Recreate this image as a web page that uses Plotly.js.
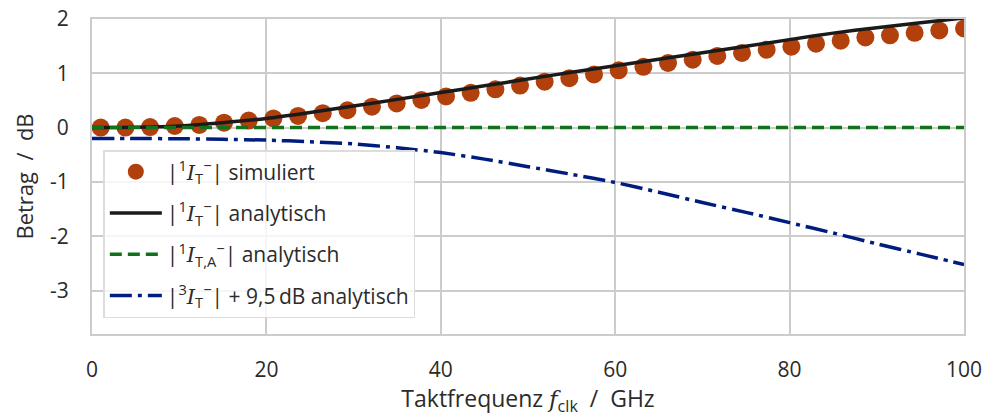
<!DOCTYPE html>
<html>
<head>
<meta charset="utf-8">
<script src="https://cdn.plot.ly/plotly-3.0.1.min.js"></script>
<style>
  html, body { margin: 0; padding: 0; background: #fff; }
  #chart { width: 985px; height: 417px; }
</style>
</head>
<body>
<div id="chart"></div>
<script>
// Simulated magnitude of the first harmonic (dB) over clock frequency (GHz)
const simFreq = [1.00, 3.83, 6.66, 9.49, 12.31, 15.14, 17.97, 20.80, 23.63, 26.46,
                 29.29, 32.11, 34.94, 37.77, 40.60, 43.43, 46.26, 49.09, 51.91, 54.74,
                 57.57, 60.40, 63.23, 66.06, 68.89, 71.71, 74.54, 77.37, 80.20, 83.03,
                 85.86, 88.69, 91.51, 94.34, 97.17, 100.00];
const simMag = [0.00, 0.00, 0.01, 0.03, 0.05, 0.09, 0.13, 0.17, 0.215, 0.265,
                0.32, 0.385, 0.445, 0.51, 0.575, 0.64, 0.705, 0.775, 0.845, 0.91,
                0.98, 1.055, 1.12, 1.19, 1.25, 1.32, 1.375, 1.435, 1.49, 1.545,
                1.60, 1.66, 1.70, 1.745, 1.79, 1.825];

// Analytic curves on a 5 GHz grid
const anaFreq = [0, 5, 10, 15, 20, 25, 30, 35, 40, 45, 50, 55, 60, 65, 70, 75, 80, 85, 90, 95, 100];
const anaFirst = [0.00, 0.005, 0.03, 0.09, 0.17, 0.28, 0.40, 0.52, 0.645, 0.77, 0.895,
                  1.02, 1.14, 1.26, 1.38, 1.50, 1.62, 1.74, 1.84, 1.93, 2.02];
const anaFirstA = [0, 0, 0, 0, 0, 0, 0, 0, 0, 0, 0, 0, 0, 0, 0, 0, 0, 0, 0, 0, 0];
const anaThird = [-0.20, -0.20, -0.205, -0.215, -0.23, -0.26, -0.30, -0.37, -0.46, -0.58,
                  -0.72, -0.86, -1.01, -1.19, -1.38, -1.56, -1.75, -1.94, -2.14, -2.33, -2.52];

const xTicks = [0, 20, 40, 60, 80, 100];
const yTicks = [-3, -2, -1, 0, 1, 2];

const FONT = "'Open Sans', Lato, sans-serif";
const TXT = '#2b2b2b';
const GRID = '#cccccc';

// italic serif symbol with sub/superscripts
const I = "<span style=\"font-family:'DejaVu Serif';font-style:italic\">I</span>";
const harm = (n, sub) => "|<sup>" + n + "</sup>" + I + "<sub>" + sub + "</sub><sup>−</sup>|";

const names = [
  harm(1, 'T') + ' simuliert',
  harm(1, 'T') + ' analytisch',
  harm(1, 'T,A') + ' analytisch',
  harm(3, 'T') + ' + 9,5\u2009dB analytisch'
];

const traces = [
  {
    x: simFreq, y: simMag, type: 'scatter', mode: 'markers', name: names[0],
    legendgroup: 'a',
    marker: { color: '#b1400d', size: 18, line: { width: 0 } }
  },
  {
    x: anaFreq, y: anaFirst, type: 'scatter', mode: 'lines', name: names[1],
    legendgroup: 'b', line: { color: '#1a1a1a', width: 3.5, shape: 'spline', smoothing: 0.6 }
  },
  {
    x: anaFreq, y: anaFirstA, type: 'scatter', mode: 'lines', name: names[2],
    legendgroup: 'c', line: { color: '#12711c', width: 3.5, dash: '12px,6px' }
  },
  {
    x: anaFreq, y: anaThird, type: 'scatter', mode: 'lines', name: names[3],
    legendgroup: 'd', line: { color: '#001c7f', width: 3.5, dash: '22px,6px,4px,6px', shape: 'spline', smoothing: 0.6 }
  }
];

const layout = {
  width: 985, height: 417,
  margin: { l: 92, r: 21, t: 19, b: 83 },
  paper_bgcolor: '#ffffff',
  plot_bgcolor: '#ffffff',
  font: { family: FONT, size: 21, color: TXT },
  showlegend: true,
  legend: {
    x: 0.013, y: 0.584, xanchor: 'left', yanchor: 'top',
    bgcolor: 'rgba(255,255,255,0.8)',
    bordercolor: '#dddddd', borderwidth: 1.5,
    font: { family: FONT, size: 21, color: TXT },
    tracegroupgap: 11,
    itemwidth: 52,
    itemsizing: 'trace'
  },
  xaxis: {
    range: [0, 100],
    tickvals: xTicks, ticktext: xTicks.map(String),
    showgrid: true, gridcolor: GRID, gridwidth: 2,
    zeroline: false,
    showline: true, linecolor: GRID, linewidth: 2, mirror: true,
    ticks: '', ticklabelstandoff: 16,
    tickfont: { family: FONT, size: 21, color: TXT },
    title: { text: 'Taktfrequenz\u00a0<span style="font-family:\'DejaVu Serif\';font-style:italic">f</span><sub>clk</sub>\u00a0\u00a0/\u00a0\u00a0GHz',
             font: { family: FONT, size: 23, color: TXT }, standoff: 2 }
  },
  yaxis: {
    range: [-3.8, 2.0],
    tickvals: yTicks, ticktext: yTicks.map(String),
    showgrid: true, gridcolor: GRID, gridwidth: 2,
    zeroline: false,
    showline: true, linecolor: GRID, linewidth: 2, mirror: true,
    ticks: '', ticklabelstandoff: 17,
    tickfont: { family: FONT, size: 21, color: TXT },
    title: { text: 'Betrag\u00a0\u00a0/\u00a0\u00a0dB', font: { family: FONT, size: 22, color: TXT }, standoff: 10 }
  }
};

Plotly.newPlot('chart', traces, layout, { staticPlot: true, displayModeBar: false });
</script>
</body>
</html>
